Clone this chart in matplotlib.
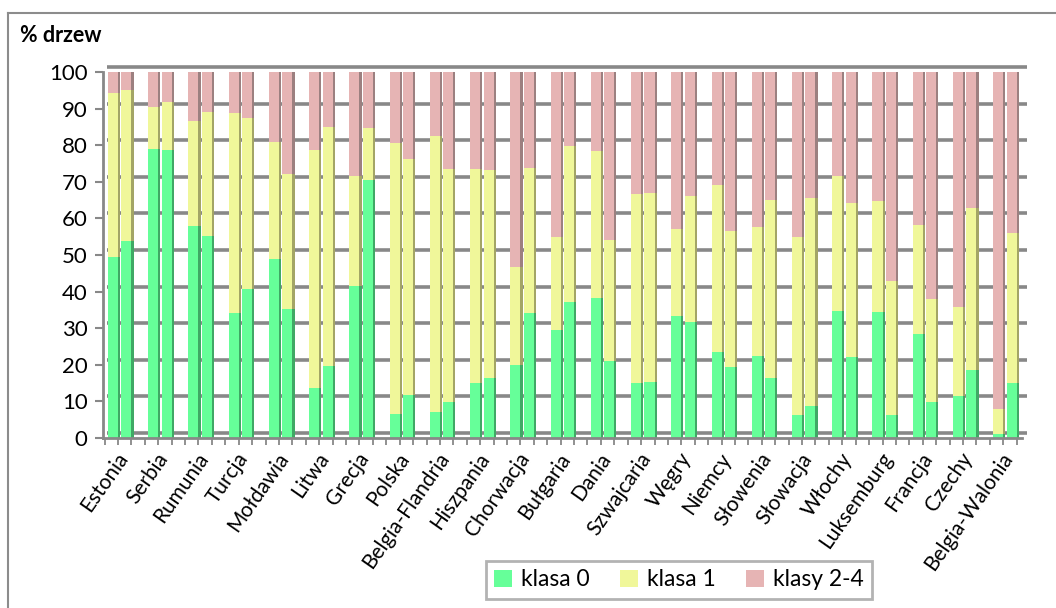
import matplotlib
matplotlib.use("Agg")
import matplotlib.pyplot as plt
import matplotlib.transforms as mtransforms
from matplotlib.patches import Patch
from matplotlib.lines import Line2D
import numpy as np

plt.rcParams['font.family'] = ['Lato', 'DejaVu Sans']

countries = ["Estonia", "Serbia", "Rumunia", "Turcja", "Mołdawia", "Litwa", "Grecja",
             "Polska", "Belgia-Flandria", "Hiszpania", "Chorwacja", "Bułgaria", "Dania",
             "Szwajcaria", "Węgry", "Niemcy", "Słowenia", "Słowacja", "Włochy",
             "Luksemburg", "Francja", "Czechy", "Belgia-Walonia"]

# first bar of each pair
klasa0_a = [49.5, 79.0, 58.0, 34.2, 49.0, 13.7, 41.6, 6.6, 7.1, 15.0, 20.0, 29.5, 38.3,
            14.9, 33.2, 23.6, 22.5, 6.3, 34.6, 34.5, 28.4, 11.4, 1.0]
klasa1_a = [44.7, 11.4, 28.5, 54.5, 32.0, 64.9, 29.9, 73.9, 75.5, 58.5, 26.7, 25.3, 40.1,
            51.7, 23.8, 45.5, 35.1, 48.6, 36.9, 30.2, 29.8, 24.5, 6.9]
# second bar of each pair
klasa0_b = [53.7, 78.8, 55.3, 40.8, 35.3, 19.7, 70.4, 11.8, 9.9, 16.4, 34.2, 37.2, 21.1,
            15.4, 31.6, 19.3, 16.5, 8.8, 22.2, 6.2, 9.9, 18.6, 14.9]
klasa1_b = [41.3, 13.0, 33.7, 46.6, 36.7, 65.3, 14.3, 64.4, 63.6, 56.8, 39.7, 42.7, 33.1,
            51.6, 34.4, 37.2, 48.6, 56.8, 42.0, 36.8, 28.2, 44.2, 41.1]

series_names = ["klasa 0", "klasa 1", "klasy 2-4"]
front_cols = ["#66FF99", "#F0F79A", "#E6B4B4"]
side_cols = ["#40A865", "#A3A566", "#9C8080"]

W, H = 1056, 608
fig = plt.figure(figsize=(W / 100, H / 100), dpi=100)
ax = fig.add_axes([103 / W, 1 - 438 / H, (1022 - 103) / W, (438 - 72) / H])

xlim = (-0.82, 67.7)
ax.set_xlim(*xlim)
ax.set_ylim(0, 100)

grid_col = "#888888"
# back-wall gridlines (offset for 3D look)
off = mtransforms.offset_copy(ax.transData, fig=fig, x=4, y=5, units='dots')
for v in range(0, 101, 10):
    ax.plot([xlim[0], xlim[1] + 0.1], [v, v], color=grid_col, lw=2.6,
            transform=off, zorder=1, solid_capstyle='butt', clip_on=False)

def draw_bar(x, k0, k1):
    vals = [k0, k1, 100 - k0 - k1]
    bottom = 0
    for v, fc, sc in zip(vals, front_cols, side_cols):
        ax.bar(x - 0.45, v, width=0.75, bottom=bottom, align='edge', color=fc,
               edgecolor='none', zorder=3)
        ax.bar(x + 0.30, v, width=0.16, bottom=bottom, align='edge', color=sc,
               edgecolor='none', zorder=3)
        bottom += v

for i in range(len(countries)):
    draw_bar(3 * i, klasa0_a[i], klasa1_a[i])
    draw_bar(3 * i + 1, klasa0_b[i], klasa1_b[i])

# spines
for s in ['top', 'right']:
    ax.spines[s].set_visible(False)
for s in ['left', 'bottom']:
    ax.spines[s].set_color(grid_col)
    ax.spines[s].set_linewidth(2)
    ax.spines[s].set_zorder(4)

ax.set_yticks(range(0, 101, 10))
ax.tick_params(axis='y', direction='out', length=6, width=1.5, color=grid_col,
               labelsize=16, pad=5)

ax.set_xticks([3 * i + 0.1 for i in range(len(countries))])
ax.set_xticklabels(countries, rotation=55, ha='right', rotation_mode='anchor',
                   fontsize=15)
ax.tick_params(axis='x', which='major', length=0, pad=8)
ax.set_xticks(np.arange(-0.7, 68, 1.0), minor=True)
ax.tick_params(axis='x', which='minor', direction='out', length=5, width=1.3,
               color=grid_col)

# y-axis title
fig.text(20 / W, 1 - 36 / H, "% drzew", fontsize=15.5, fontweight='bold',
         va='center', ha='left')

# outer frame
fig.add_artist(Line2D([8 / W, 8 / W], [0, 1 - 13 / H], color="#8c8c8c", lw=1.5,
                      transform=fig.transFigure))
fig.add_artist(Line2D([8 / W, 1], [1 - 13 / H, 1 - 13 / H], color="#8c8c8c", lw=1.5,
                      transform=fig.transFigure))

handles = [Patch(facecolor=c, edgecolor='none') for c in front_cols]
leg = fig.legend(handles, series_names, loc='center', bbox_to_anchor=(679 / W, 1 - 580 / H),
                 ncol=3, fontsize=16.5, frameon=True, fancybox=False, handlelength=0.8,
                 handleheight=0.8, handletextpad=0.4, columnspacing=1.3, borderpad=0.35)
leg.get_frame().set_edgecolor("#a0a0a0")
leg.get_frame().set_linewidth(2)

fig.savefig("out.png", dpi=100)
